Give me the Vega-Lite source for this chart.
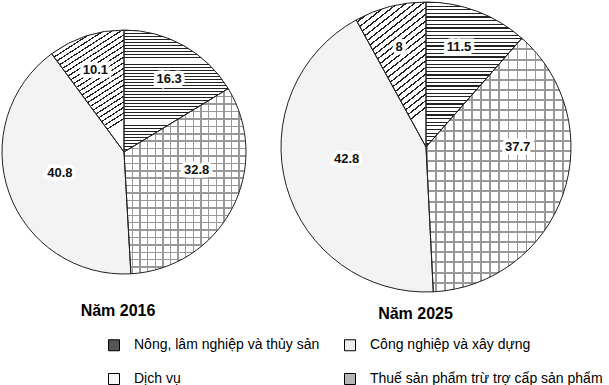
{
"$schema": "https://vega.github.io/schema/vega-lite/v6.json",
"padding": 0,
"background": "white",
"config": {"view": {"stroke": null}, "font": "Liberation Sans"},
"data": {"values": [
 {"year": "2016", "sector": "Nông, lâm nghiệp và thủy sản", "idx": 1, "value": 16.3},
 {"year": "2016", "sector": "Công nghiệp và xây dựng", "idx": 2, "value": 32.8},
 {"year": "2016", "sector": "Dịch vụ", "idx": 3, "value": 40.8},
 {"year": "2016", "sector": "Thuế sản phẩm trừ trợ cấp sản phẩm", "idx": 4, "value": 10.1},
 {"year": "2025", "sector": "Nông, lâm nghiệp và thủy sản", "idx": 1, "value": 11.5},
 {"year": "2025", "sector": "Công nghiệp và xây dựng", "idx": 2, "value": 37.7},
 {"year": "2025", "sector": "Dịch vụ", "idx": 3, "value": 42.8},
 {"year": "2025", "sector": "Thuế sản phẩm trừ trợ cấp sản phẩm", "idx": 4, "value": 8}
]},
"spacing": 31,
"hconcat": [
{
 "width": 248, "height": 304,
 "title": {"text": "Năm 2016", "orient": "bottom", "anchor": "middle", "font": "Liberation Sans", "fontSize": 16, "fontWeight": "bold", "color": "#000", "baseline": "alphabetic", "offset": 12, "dx": -6},
 "transform": [{"filter": "datum.year == '2016'"}],
 "layer": [
  {"mark": {"type": "arc", "outerRadius": 122},
   "encoding": {
    "theta": {"field": "value", "type": "quantitative", "stack": true},
    "order": {"field": "idx", "type": "quantitative"},
    "fill": {"field": "sector", "type": "nominal",
     "scale": {"domain": ["Nông, lâm nghiệp và thủy sản", "Công nghiệp và xây dựng", "Dịch vụ", "Thuế sản phẩm trừ trợ cấp sản phẩm"], "range": ["#555555", "#eeeeee", "#f6f6f6", "#b5b5b5"]},
     "legend": {"orient": "none", "legendX": 107, "legendY": 338, "direction": "horizontal", "columns": 2, "title": null, "symbolType": "square", "symbolSize": 121, "symbolStrokeColor": "#000", "symbolStrokeWidth": 1, "labelFont": "Liberation Sans", "labelFontSize": 14, "labelColor": "#000", "labelOffset": 13, "columnPadding": 22, "rowPadding": 18, "padding": 0, "labelLimit": 400}}
   }},
  {"mark": {"type": "arc", "outerRadius": 122},
   "encoding": {
    "theta": {"field": "value", "type": "quantitative", "stack": true},
    "order": {"field": "idx", "type": "quantitative"},
    "fill": {"condition": [
      {"test": "datum.idx == 1", "value": {"gradient": "linear", "x1": 0, "y1": 0, "x2": 0, "y2": 1, "stops": [
{"offset":0,"color":"#222"},{"offset":0.008,"color":"#222"},{"offset":0.008,"color":"#fff"},{"offset":0.025,"color":"#fff"},
{"offset":0.025,"color":"#222"},{"offset":0.033,"color":"#222"},{"offset":0.033,"color":"#fff"},{"offset":0.05,"color":"#fff"},
{"offset":0.05,"color":"#222"},{"offset":0.058,"color":"#222"},{"offset":0.058,"color":"#fff"},{"offset":0.075,"color":"#fff"},
{"offset":0.075,"color":"#222"},{"offset":0.083,"color":"#222"},{"offset":0.083,"color":"#fff"},{"offset":0.1,"color":"#fff"},
{"offset":0.1,"color":"#222"},{"offset":0.108,"color":"#222"},{"offset":0.108,"color":"#fff"},{"offset":0.125,"color":"#fff"},
{"offset":0.125,"color":"#222"},{"offset":0.133,"color":"#222"},{"offset":0.133,"color":"#fff"},{"offset":0.15,"color":"#fff"},
{"offset":0.15,"color":"#222"},{"offset":0.158,"color":"#222"},{"offset":0.158,"color":"#fff"},{"offset":0.175,"color":"#fff"},
{"offset":0.175,"color":"#222"},{"offset":0.183,"color":"#222"},{"offset":0.183,"color":"#fff"},{"offset":0.2,"color":"#fff"},
{"offset":0.2,"color":"#222"},{"offset":0.208,"color":"#222"},{"offset":0.208,"color":"#fff"},{"offset":0.225,"color":"#fff"},
{"offset":0.225,"color":"#222"},{"offset":0.233,"color":"#222"},{"offset":0.233,"color":"#fff"},{"offset":0.25,"color":"#fff"},
{"offset":0.25,"color":"#222"},{"offset":0.258,"color":"#222"},{"offset":0.258,"color":"#fff"},{"offset":0.275,"color":"#fff"},
{"offset":0.275,"color":"#222"},{"offset":0.283,"color":"#222"},{"offset":0.283,"color":"#fff"},{"offset":0.3,"color":"#fff"},
{"offset":0.3,"color":"#222"},{"offset":0.308,"color":"#222"},{"offset":0.308,"color":"#fff"},{"offset":0.325,"color":"#fff"},
{"offset":0.325,"color":"#222"},{"offset":0.333,"color":"#222"},{"offset":0.333,"color":"#fff"},{"offset":0.35,"color":"#fff"},
{"offset":0.35,"color":"#222"},{"offset":0.358,"color":"#222"},{"offset":0.358,"color":"#fff"},{"offset":0.375,"color":"#fff"},
{"offset":0.375,"color":"#222"},{"offset":0.383,"color":"#222"},{"offset":0.383,"color":"#fff"},{"offset":0.4,"color":"#fff"},
{"offset":0.4,"color":"#222"},{"offset":0.408,"color":"#222"},{"offset":0.408,"color":"#fff"},{"offset":0.425,"color":"#fff"},
{"offset":0.425,"color":"#222"},{"offset":0.433,"color":"#222"},{"offset":0.433,"color":"#fff"},{"offset":0.45,"color":"#fff"},
{"offset":0.45,"color":"#222"},{"offset":0.458,"color":"#222"},{"offset":0.458,"color":"#fff"},{"offset":0.475,"color":"#fff"},
{"offset":0.475,"color":"#222"},{"offset":0.483,"color":"#222"},{"offset":0.483,"color":"#fff"},{"offset":0.5,"color":"#fff"},
{"offset":0.5,"color":"#222"},{"offset":0.508,"color":"#222"},{"offset":0.508,"color":"#fff"},{"offset":0.525,"color":"#fff"},
{"offset":0.525,"color":"#222"},{"offset":0.533,"color":"#222"},{"offset":0.533,"color":"#fff"},{"offset":0.55,"color":"#fff"},
{"offset":0.55,"color":"#222"},{"offset":0.558,"color":"#222"},{"offset":0.558,"color":"#fff"},{"offset":0.575,"color":"#fff"},
{"offset":0.575,"color":"#222"},{"offset":0.583,"color":"#222"},{"offset":0.583,"color":"#fff"},{"offset":0.6,"color":"#fff"},
{"offset":0.6,"color":"#222"},{"offset":0.608,"color":"#222"},{"offset":0.608,"color":"#fff"},{"offset":0.625,"color":"#fff"},
{"offset":0.625,"color":"#222"},{"offset":0.633,"color":"#222"},{"offset":0.633,"color":"#fff"},{"offset":0.65,"color":"#fff"},
{"offset":0.65,"color":"#222"},{"offset":0.658,"color":"#222"},{"offset":0.658,"color":"#fff"},{"offset":0.675,"color":"#fff"},
{"offset":0.675,"color":"#222"},{"offset":0.683,"color":"#222"},{"offset":0.683,"color":"#fff"},{"offset":0.7,"color":"#fff"},
{"offset":0.7,"color":"#222"},{"offset":0.708,"color":"#222"},{"offset":0.708,"color":"#fff"},{"offset":0.725,"color":"#fff"},
{"offset":0.725,"color":"#222"},{"offset":0.733,"color":"#222"},{"offset":0.733,"color":"#fff"},{"offset":0.75,"color":"#fff"},
{"offset":0.75,"color":"#222"},{"offset":0.758,"color":"#222"},{"offset":0.758,"color":"#fff"},{"offset":0.775,"color":"#fff"},
{"offset":0.775,"color":"#222"},{"offset":0.783,"color":"#222"},{"offset":0.783,"color":"#fff"},{"offset":0.8,"color":"#fff"},
{"offset":0.8,"color":"#222"},{"offset":0.808,"color":"#222"},{"offset":0.808,"color":"#fff"},{"offset":0.825,"color":"#fff"},
{"offset":0.825,"color":"#222"},{"offset":0.833,"color":"#222"},{"offset":0.833,"color":"#fff"},{"offset":0.85,"color":"#fff"},
{"offset":0.85,"color":"#222"},{"offset":0.858,"color":"#222"},{"offset":0.858,"color":"#fff"},{"offset":0.875,"color":"#fff"},
{"offset":0.875,"color":"#222"},{"offset":0.883,"color":"#222"},{"offset":0.883,"color":"#fff"},{"offset":0.9,"color":"#fff"},
{"offset":0.9,"color":"#222"},{"offset":0.908,"color":"#222"},{"offset":0.908,"color":"#fff"},{"offset":0.925,"color":"#fff"},
{"offset":0.925,"color":"#222"},{"offset":0.933,"color":"#222"},{"offset":0.933,"color":"#fff"},{"offset":0.95,"color":"#fff"},
{"offset":0.95,"color":"#222"},{"offset":0.958,"color":"#222"},{"offset":0.958,"color":"#fff"},{"offset":0.975,"color":"#fff"},
{"offset":0.975,"color":"#222"},{"offset":0.983,"color":"#222"},{"offset":0.983,"color":"#fff"},{"offset":1,"color":"#fff"}
      ]}},
      {"test": "datum.idx == 2", "value": {"gradient": "linear", "x1": 0, "y1": 0, "x2": 0, "y2": 1, "stops": [
{"offset":0,"color":"#999"},{"offset":0.008,"color":"#999"},{"offset":0.008,"color":"#fff"},{"offset":0.04,"color":"#fff"},
{"offset":0.04,"color":"#999"},{"offset":0.048,"color":"#999"},{"offset":0.048,"color":"#fff"},{"offset":0.08,"color":"#fff"},
{"offset":0.08,"color":"#999"},{"offset":0.088,"color":"#999"},{"offset":0.088,"color":"#fff"},{"offset":0.12,"color":"#fff"},
{"offset":0.12,"color":"#999"},{"offset":0.128,"color":"#999"},{"offset":0.128,"color":"#fff"},{"offset":0.16,"color":"#fff"},
{"offset":0.16,"color":"#999"},{"offset":0.168,"color":"#999"},{"offset":0.168,"color":"#fff"},{"offset":0.2,"color":"#fff"},
{"offset":0.2,"color":"#999"},{"offset":0.208,"color":"#999"},{"offset":0.208,"color":"#fff"},{"offset":0.24,"color":"#fff"},
{"offset":0.24,"color":"#999"},{"offset":0.248,"color":"#999"},{"offset":0.248,"color":"#fff"},{"offset":0.28,"color":"#fff"},
{"offset":0.28,"color":"#999"},{"offset":0.288,"color":"#999"},{"offset":0.288,"color":"#fff"},{"offset":0.32,"color":"#fff"},
{"offset":0.32,"color":"#999"},{"offset":0.328,"color":"#999"},{"offset":0.328,"color":"#fff"},{"offset":0.36,"color":"#fff"},
{"offset":0.36,"color":"#999"},{"offset":0.368,"color":"#999"},{"offset":0.368,"color":"#fff"},{"offset":0.4,"color":"#fff"},
{"offset":0.4,"color":"#999"},{"offset":0.408,"color":"#999"},{"offset":0.408,"color":"#fff"},{"offset":0.44,"color":"#fff"},
{"offset":0.44,"color":"#999"},{"offset":0.448,"color":"#999"},{"offset":0.448,"color":"#fff"},{"offset":0.48,"color":"#fff"},
{"offset":0.48,"color":"#999"},{"offset":0.488,"color":"#999"},{"offset":0.488,"color":"#fff"},{"offset":0.52,"color":"#fff"},
{"offset":0.52,"color":"#999"},{"offset":0.528,"color":"#999"},{"offset":0.528,"color":"#fff"},{"offset":0.56,"color":"#fff"},
{"offset":0.56,"color":"#999"},{"offset":0.568,"color":"#999"},{"offset":0.568,"color":"#fff"},{"offset":0.6,"color":"#fff"},
{"offset":0.6,"color":"#999"},{"offset":0.608,"color":"#999"},{"offset":0.608,"color":"#fff"},{"offset":0.64,"color":"#fff"},
{"offset":0.64,"color":"#999"},{"offset":0.648,"color":"#999"},{"offset":0.648,"color":"#fff"},{"offset":0.68,"color":"#fff"},
{"offset":0.68,"color":"#999"},{"offset":0.688,"color":"#999"},{"offset":0.688,"color":"#fff"},{"offset":0.72,"color":"#fff"},
{"offset":0.72,"color":"#999"},{"offset":0.728,"color":"#999"},{"offset":0.728,"color":"#fff"},{"offset":0.76,"color":"#fff"},
{"offset":0.76,"color":"#999"},{"offset":0.768,"color":"#999"},{"offset":0.768,"color":"#fff"},{"offset":0.8,"color":"#fff"},
{"offset":0.8,"color":"#999"},{"offset":0.808,"color":"#999"},{"offset":0.808,"color":"#fff"},{"offset":0.84,"color":"#fff"},
{"offset":0.84,"color":"#999"},{"offset":0.848,"color":"#999"},{"offset":0.848,"color":"#fff"},{"offset":0.88,"color":"#fff"},
{"offset":0.88,"color":"#999"},{"offset":0.888,"color":"#999"},{"offset":0.888,"color":"#fff"},{"offset":0.92,"color":"#fff"},
{"offset":0.92,"color":"#999"},{"offset":0.928,"color":"#999"},{"offset":0.928,"color":"#fff"},{"offset":0.96,"color":"#fff"},
{"offset":0.96,"color":"#999"},{"offset":0.968,"color":"#999"},{"offset":0.968,"color":"#fff"},{"offset":1,"color":"#fff"}
      ]}},
      {"test": "datum.idx == 4", "value": {"gradient": "linear", "x1": 0, "y1": 0, "x2": 0.38, "y2": 1, "stops": [
{"offset":0,"color":"#222"},{"offset":0.01,"color":"#222"},{"offset":0.01,"color":"#fff"},{"offset":0.04,"color":"#fff"},
{"offset":0.04,"color":"#222"},{"offset":0.05,"color":"#222"},{"offset":0.05,"color":"#fff"},{"offset":0.08,"color":"#fff"},
{"offset":0.08,"color":"#222"},{"offset":0.09,"color":"#222"},{"offset":0.09,"color":"#fff"},{"offset":0.12,"color":"#fff"},
{"offset":0.12,"color":"#222"},{"offset":0.13,"color":"#222"},{"offset":0.13,"color":"#fff"},{"offset":0.16,"color":"#fff"},
{"offset":0.16,"color":"#222"},{"offset":0.17,"color":"#222"},{"offset":0.17,"color":"#fff"},{"offset":0.2,"color":"#fff"},
{"offset":0.2,"color":"#222"},{"offset":0.21,"color":"#222"},{"offset":0.21,"color":"#fff"},{"offset":0.24,"color":"#fff"},
{"offset":0.24,"color":"#222"},{"offset":0.25,"color":"#222"},{"offset":0.25,"color":"#fff"},{"offset":0.28,"color":"#fff"},
{"offset":0.28,"color":"#222"},{"offset":0.29,"color":"#222"},{"offset":0.29,"color":"#fff"},{"offset":0.32,"color":"#fff"},
{"offset":0.32,"color":"#222"},{"offset":0.33,"color":"#222"},{"offset":0.33,"color":"#fff"},{"offset":0.36,"color":"#fff"},
{"offset":0.36,"color":"#222"},{"offset":0.37,"color":"#222"},{"offset":0.37,"color":"#fff"},{"offset":0.4,"color":"#fff"},
{"offset":0.4,"color":"#222"},{"offset":0.41,"color":"#222"},{"offset":0.41,"color":"#fff"},{"offset":0.44,"color":"#fff"},
{"offset":0.44,"color":"#222"},{"offset":0.45,"color":"#222"},{"offset":0.45,"color":"#fff"},{"offset":0.48,"color":"#fff"},
{"offset":0.48,"color":"#222"},{"offset":0.49,"color":"#222"},{"offset":0.49,"color":"#fff"},{"offset":0.52,"color":"#fff"},
{"offset":0.52,"color":"#222"},{"offset":0.53,"color":"#222"},{"offset":0.53,"color":"#fff"},{"offset":0.56,"color":"#fff"},
{"offset":0.56,"color":"#222"},{"offset":0.57,"color":"#222"},{"offset":0.57,"color":"#fff"},{"offset":0.6,"color":"#fff"},
{"offset":0.6,"color":"#222"},{"offset":0.61,"color":"#222"},{"offset":0.61,"color":"#fff"},{"offset":0.64,"color":"#fff"},
{"offset":0.64,"color":"#222"},{"offset":0.65,"color":"#222"},{"offset":0.65,"color":"#fff"},{"offset":0.68,"color":"#fff"},
{"offset":0.68,"color":"#222"},{"offset":0.69,"color":"#222"},{"offset":0.69,"color":"#fff"},{"offset":0.72,"color":"#fff"},
{"offset":0.72,"color":"#222"},{"offset":0.73,"color":"#222"},{"offset":0.73,"color":"#fff"},{"offset":0.76,"color":"#fff"},
{"offset":0.76,"color":"#222"},{"offset":0.77,"color":"#222"},{"offset":0.77,"color":"#fff"},{"offset":0.8,"color":"#fff"},
{"offset":0.8,"color":"#222"},{"offset":0.81,"color":"#222"},{"offset":0.81,"color":"#fff"},{"offset":0.84,"color":"#fff"},
{"offset":0.84,"color":"#222"},{"offset":0.85,"color":"#222"},{"offset":0.85,"color":"#fff"},{"offset":0.88,"color":"#fff"},
{"offset":0.88,"color":"#222"},{"offset":0.89,"color":"#222"},{"offset":0.89,"color":"#fff"},{"offset":0.92,"color":"#fff"},
{"offset":0.92,"color":"#222"},{"offset":0.93,"color":"#222"},{"offset":0.93,"color":"#fff"},{"offset":0.96,"color":"#fff"},
{"offset":0.96,"color":"#222"},{"offset":0.97,"color":"#222"},{"offset":0.97,"color":"#fff"},{"offset":1,"color":"#fff"}
      ]}}
     ], "value": "#f3f3f3"}
   }},
  {"mark": {"type": "arc", "outerRadius": 122},
   "encoding": {
    "theta": {"field": "value", "type": "quantitative", "stack": true},
    "order": {"field": "idx", "type": "quantitative"},
    "fill": {"condition": {"test": "datum.idx == 2", "value": {"gradient": "linear", "x1": 0, "y1": 0, "x2": 1, "y2": 0, "stops": [
{"offset":0,"color":"#999"},{"offset":0.012,"color":"#999"},{"offset":0.012,"color":"rgba(0,0,0,0)"},{"offset":0.0625,"color":"rgba(0,0,0,0)"},
{"offset":0.0625,"color":"#999"},{"offset":0.0745,"color":"#999"},{"offset":0.0745,"color":"rgba(0,0,0,0)"},{"offset":0.125,"color":"rgba(0,0,0,0)"},
{"offset":0.125,"color":"#999"},{"offset":0.137,"color":"#999"},{"offset":0.137,"color":"rgba(0,0,0,0)"},{"offset":0.1875,"color":"rgba(0,0,0,0)"},
{"offset":0.1875,"color":"#999"},{"offset":0.1995,"color":"#999"},{"offset":0.1995,"color":"rgba(0,0,0,0)"},{"offset":0.25,"color":"rgba(0,0,0,0)"},
{"offset":0.25,"color":"#999"},{"offset":0.262,"color":"#999"},{"offset":0.262,"color":"rgba(0,0,0,0)"},{"offset":0.3125,"color":"rgba(0,0,0,0)"},
{"offset":0.3125,"color":"#999"},{"offset":0.3245,"color":"#999"},{"offset":0.3245,"color":"rgba(0,0,0,0)"},{"offset":0.375,"color":"rgba(0,0,0,0)"},
{"offset":0.375,"color":"#999"},{"offset":0.387,"color":"#999"},{"offset":0.387,"color":"rgba(0,0,0,0)"},{"offset":0.4375,"color":"rgba(0,0,0,0)"},
{"offset":0.4375,"color":"#999"},{"offset":0.4495,"color":"#999"},{"offset":0.4495,"color":"rgba(0,0,0,0)"},{"offset":0.5,"color":"rgba(0,0,0,0)"},
{"offset":0.5,"color":"#999"},{"offset":0.512,"color":"#999"},{"offset":0.512,"color":"rgba(0,0,0,0)"},{"offset":0.5625,"color":"rgba(0,0,0,0)"},
{"offset":0.5625,"color":"#999"},{"offset":0.5745,"color":"#999"},{"offset":0.5745,"color":"rgba(0,0,0,0)"},{"offset":0.625,"color":"rgba(0,0,0,0)"},
{"offset":0.625,"color":"#999"},{"offset":0.637,"color":"#999"},{"offset":0.637,"color":"rgba(0,0,0,0)"},{"offset":0.6875,"color":"rgba(0,0,0,0)"},
{"offset":0.6875,"color":"#999"},{"offset":0.6995,"color":"#999"},{"offset":0.6995,"color":"rgba(0,0,0,0)"},{"offset":0.75,"color":"rgba(0,0,0,0)"},
{"offset":0.75,"color":"#999"},{"offset":0.762,"color":"#999"},{"offset":0.762,"color":"rgba(0,0,0,0)"},{"offset":0.8125,"color":"rgba(0,0,0,0)"},
{"offset":0.8125,"color":"#999"},{"offset":0.8245,"color":"#999"},{"offset":0.8245,"color":"rgba(0,0,0,0)"},{"offset":0.875,"color":"rgba(0,0,0,0)"},
{"offset":0.875,"color":"#999"},{"offset":0.887,"color":"#999"},{"offset":0.887,"color":"rgba(0,0,0,0)"},{"offset":0.9375,"color":"rgba(0,0,0,0)"},
{"offset":0.9375,"color":"#999"},{"offset":0.9495,"color":"#999"},{"offset":0.9495,"color":"rgba(0,0,0,0)"},{"offset":1,"color":"rgba(0,0,0,0)"}
      ]}}, "value": "transparent"}
   }},
  {"mark": {"type": "arc", "outerRadius": 122, "fill": "transparent", "stroke": "#222", "strokeWidth": 1},
   "encoding": {
    "theta": {"field": "value", "type": "quantitative", "stack": true},
    "order": {"field": "idx", "type": "quantitative"}
   }},
  {"mark": {"type": "text", "font": "Liberation Sans", "fontSize": 13, "fontWeight": "bold", "fill": "#fff", "stroke": "#fff", "strokeWidth": 7, "strokeJoin": "miter",
    "dx": {"expr": "datum.idx == 1 ? 5 : datum.idx == 3 ? 13 : datum.idx == 4 ? -3 : 0"},
    "dy": {"expr": "datum.idx == 1 ? -2 : datum.idx == 2 ? -20 : datum.idx == 3 ? -7 : -4"}},
   "encoding": {
    "theta": {"field": "value", "type": "quantitative", "stack": true},
    "order": {"field": "idx", "type": "quantitative"},
    "radius": {"value": 82},
    "text": {"field": "value", "type": "quantitative", "format": "~g"}
   }},
  {"mark": {"type": "text", "font": "Liberation Sans", "fontSize": 13, "fontWeight": "bold", "fill": "#111",
    "dx": {"expr": "datum.idx == 1 ? 5 : datum.idx == 3 ? 13 : datum.idx == 4 ? -3 : 0"},
    "dy": {"expr": "datum.idx == 1 ? -2 : datum.idx == 2 ? -20 : datum.idx == 3 ? -7 : -4"}},
   "encoding": {
    "theta": {"field": "value", "type": "quantitative", "stack": true},
    "order": {"field": "idx", "type": "quantitative"},
    "radius": {"value": 82},
    "text": {"field": "value", "type": "quantitative", "format": "~g"}
   }}
 ]
},
{
 "width": 290, "height": 294,
 "title": {"text": "Năm 2025", "orient": "bottom", "anchor": "middle", "font": "Liberation Sans", "fontSize": 16, "fontWeight": "bold", "color": "#000", "baseline": "alphabetic", "offset": 25, "dx": -10.5},
 "transform": [{"filter": "datum.year == '2025'"}],
 "layer": [
  {"mark": {"type": "arc", "outerRadius": 145},
   "encoding": {
    "theta": {"field": "value", "type": "quantitative", "stack": true},
    "order": {"field": "idx", "type": "quantitative"},
    "fill": {"field": "sector", "type": "nominal",
     "scale": {"domain": ["Nông, lâm nghiệp và thủy sản", "Công nghiệp và xây dựng", "Dịch vụ", "Thuế sản phẩm trừ trợ cấp sản phẩm"], "range": ["#555555", "#eeeeee", "#f6f6f6", "#b5b5b5"]},
     "legend": {"orient": "none", "legendX": 107, "legendY": 338, "direction": "horizontal", "columns": 2, "title": null, "symbolType": "square", "symbolSize": 121, "symbolStrokeColor": "#000", "symbolStrokeWidth": 1, "labelFont": "Liberation Sans", "labelFontSize": 14, "labelColor": "#000", "labelOffset": 13, "columnPadding": 22, "rowPadding": 18, "padding": 0, "labelLimit": 400}}
   }},
  {"mark": {"type": "arc", "outerRadius": 145},
   "encoding": {
    "theta": {"field": "value", "type": "quantitative", "stack": true},
    "order": {"field": "idx", "type": "quantitative"},
    "fill": {"condition": [
      {"test": "datum.idx == 1", "value": {"gradient": "linear", "x1": 0, "y1": 0, "x2": 0, "y2": 1, "stops": [
{"offset":0,"color":"#222"},{"offset":0.008,"color":"#222"},{"offset":0.008,"color":"#fff"},{"offset":0.025,"color":"#fff"},
{"offset":0.025,"color":"#222"},{"offset":0.033,"color":"#222"},{"offset":0.033,"color":"#fff"},{"offset":0.05,"color":"#fff"},
{"offset":0.05,"color":"#222"},{"offset":0.058,"color":"#222"},{"offset":0.058,"color":"#fff"},{"offset":0.075,"color":"#fff"},
{"offset":0.075,"color":"#222"},{"offset":0.083,"color":"#222"},{"offset":0.083,"color":"#fff"},{"offset":0.1,"color":"#fff"},
{"offset":0.1,"color":"#222"},{"offset":0.108,"color":"#222"},{"offset":0.108,"color":"#fff"},{"offset":0.125,"color":"#fff"},
{"offset":0.125,"color":"#222"},{"offset":0.133,"color":"#222"},{"offset":0.133,"color":"#fff"},{"offset":0.15,"color":"#fff"},
{"offset":0.15,"color":"#222"},{"offset":0.158,"color":"#222"},{"offset":0.158,"color":"#fff"},{"offset":0.175,"color":"#fff"},
{"offset":0.175,"color":"#222"},{"offset":0.183,"color":"#222"},{"offset":0.183,"color":"#fff"},{"offset":0.2,"color":"#fff"},
{"offset":0.2,"color":"#222"},{"offset":0.208,"color":"#222"},{"offset":0.208,"color":"#fff"},{"offset":0.225,"color":"#fff"},
{"offset":0.225,"color":"#222"},{"offset":0.233,"color":"#222"},{"offset":0.233,"color":"#fff"},{"offset":0.25,"color":"#fff"},
{"offset":0.25,"color":"#222"},{"offset":0.258,"color":"#222"},{"offset":0.258,"color":"#fff"},{"offset":0.275,"color":"#fff"},
{"offset":0.275,"color":"#222"},{"offset":0.283,"color":"#222"},{"offset":0.283,"color":"#fff"},{"offset":0.3,"color":"#fff"},
{"offset":0.3,"color":"#222"},{"offset":0.308,"color":"#222"},{"offset":0.308,"color":"#fff"},{"offset":0.325,"color":"#fff"},
{"offset":0.325,"color":"#222"},{"offset":0.333,"color":"#222"},{"offset":0.333,"color":"#fff"},{"offset":0.35,"color":"#fff"},
{"offset":0.35,"color":"#222"},{"offset":0.358,"color":"#222"},{"offset":0.358,"color":"#fff"},{"offset":0.375,"color":"#fff"},
{"offset":0.375,"color":"#222"},{"offset":0.383,"color":"#222"},{"offset":0.383,"color":"#fff"},{"offset":0.4,"color":"#fff"},
{"offset":0.4,"color":"#222"},{"offset":0.408,"color":"#222"},{"offset":0.408,"color":"#fff"},{"offset":0.425,"color":"#fff"},
{"offset":0.425,"color":"#222"},{"offset":0.433,"color":"#222"},{"offset":0.433,"color":"#fff"},{"offset":0.45,"color":"#fff"},
{"offset":0.45,"color":"#222"},{"offset":0.458,"color":"#222"},{"offset":0.458,"color":"#fff"},{"offset":0.475,"color":"#fff"},
{"offset":0.475,"color":"#222"},{"offset":0.483,"color":"#222"},{"offset":0.483,"color":"#fff"},{"offset":0.5,"color":"#fff"},
{"offset":0.5,"color":"#222"},{"offset":0.508,"color":"#222"},{"offset":0.508,"color":"#fff"},{"offset":0.525,"color":"#fff"},
{"offset":0.525,"color":"#222"},{"offset":0.533,"color":"#222"},{"offset":0.533,"color":"#fff"},{"offset":0.55,"color":"#fff"},
{"offset":0.55,"color":"#222"},{"offset":0.558,"color":"#222"},{"offset":0.558,"color":"#fff"},{"offset":0.575,"color":"#fff"},
{"offset":0.575,"color":"#222"},{"offset":0.583,"color":"#222"},{"offset":0.583,"color":"#fff"},{"offset":0.6,"color":"#fff"},
{"offset":0.6,"color":"#222"},{"offset":0.608,"color":"#222"},{"offset":0.608,"color":"#fff"},{"offset":0.625,"color":"#fff"},
{"offset":0.625,"color":"#222"},{"offset":0.633,"color":"#222"},{"offset":0.633,"color":"#fff"},{"offset":0.65,"color":"#fff"},
{"offset":0.65,"color":"#222"},{"offset":0.658,"color":"#222"},{"offset":0.658,"color":"#fff"},{"offset":0.675,"color":"#fff"},
{"offset":0.675,"color":"#222"},{"offset":0.683,"color":"#222"},{"offset":0.683,"color":"#fff"},{"offset":0.7,"color":"#fff"},
{"offset":0.7,"color":"#222"},{"offset":0.708,"color":"#222"},{"offset":0.708,"color":"#fff"},{"offset":0.725,"color":"#fff"},
{"offset":0.725,"color":"#222"},{"offset":0.733,"color":"#222"},{"offset":0.733,"color":"#fff"},{"offset":0.75,"color":"#fff"},
{"offset":0.75,"color":"#222"},{"offset":0.758,"color":"#222"},{"offset":0.758,"color":"#fff"},{"offset":0.775,"color":"#fff"},
{"offset":0.775,"color":"#222"},{"offset":0.783,"color":"#222"},{"offset":0.783,"color":"#fff"},{"offset":0.8,"color":"#fff"},
{"offset":0.8,"color":"#222"},{"offset":0.808,"color":"#222"},{"offset":0.808,"color":"#fff"},{"offset":0.825,"color":"#fff"},
{"offset":0.825,"color":"#222"},{"offset":0.833,"color":"#222"},{"offset":0.833,"color":"#fff"},{"offset":0.85,"color":"#fff"},
{"offset":0.85,"color":"#222"},{"offset":0.858,"color":"#222"},{"offset":0.858,"color":"#fff"},{"offset":0.875,"color":"#fff"},
{"offset":0.875,"color":"#222"},{"offset":0.883,"color":"#222"},{"offset":0.883,"color":"#fff"},{"offset":0.9,"color":"#fff"},
{"offset":0.9,"color":"#222"},{"offset":0.908,"color":"#222"},{"offset":0.908,"color":"#fff"},{"offset":0.925,"color":"#fff"},
{"offset":0.925,"color":"#222"},{"offset":0.933,"color":"#222"},{"offset":0.933,"color":"#fff"},{"offset":0.95,"color":"#fff"},
{"offset":0.95,"color":"#222"},{"offset":0.958,"color":"#222"},{"offset":0.958,"color":"#fff"},{"offset":0.975,"color":"#fff"},
{"offset":0.975,"color":"#222"},{"offset":0.983,"color":"#222"},{"offset":0.983,"color":"#fff"},{"offset":1,"color":"#fff"}
      ]}},
      {"test": "datum.idx == 2", "value": {"gradient": "linear", "x1": 0, "y1": 0, "x2": 0, "y2": 1, "stops": [
{"offset":0,"color":"#999"},{"offset":0.008,"color":"#999"},{"offset":0.008,"color":"#fff"},{"offset":0.04,"color":"#fff"},
{"offset":0.04,"color":"#999"},{"offset":0.048,"color":"#999"},{"offset":0.048,"color":"#fff"},{"offset":0.08,"color":"#fff"},
{"offset":0.08,"color":"#999"},{"offset":0.088,"color":"#999"},{"offset":0.088,"color":"#fff"},{"offset":0.12,"color":"#fff"},
{"offset":0.12,"color":"#999"},{"offset":0.128,"color":"#999"},{"offset":0.128,"color":"#fff"},{"offset":0.16,"color":"#fff"},
{"offset":0.16,"color":"#999"},{"offset":0.168,"color":"#999"},{"offset":0.168,"color":"#fff"},{"offset":0.2,"color":"#fff"},
{"offset":0.2,"color":"#999"},{"offset":0.208,"color":"#999"},{"offset":0.208,"color":"#fff"},{"offset":0.24,"color":"#fff"},
{"offset":0.24,"color":"#999"},{"offset":0.248,"color":"#999"},{"offset":0.248,"color":"#fff"},{"offset":0.28,"color":"#fff"},
{"offset":0.28,"color":"#999"},{"offset":0.288,"color":"#999"},{"offset":0.288,"color":"#fff"},{"offset":0.32,"color":"#fff"},
{"offset":0.32,"color":"#999"},{"offset":0.328,"color":"#999"},{"offset":0.328,"color":"#fff"},{"offset":0.36,"color":"#fff"},
{"offset":0.36,"color":"#999"},{"offset":0.368,"color":"#999"},{"offset":0.368,"color":"#fff"},{"offset":0.4,"color":"#fff"},
{"offset":0.4,"color":"#999"},{"offset":0.408,"color":"#999"},{"offset":0.408,"color":"#fff"},{"offset":0.44,"color":"#fff"},
{"offset":0.44,"color":"#999"},{"offset":0.448,"color":"#999"},{"offset":0.448,"color":"#fff"},{"offset":0.48,"color":"#fff"},
{"offset":0.48,"color":"#999"},{"offset":0.488,"color":"#999"},{"offset":0.488,"color":"#fff"},{"offset":0.52,"color":"#fff"},
{"offset":0.52,"color":"#999"},{"offset":0.528,"color":"#999"},{"offset":0.528,"color":"#fff"},{"offset":0.56,"color":"#fff"},
{"offset":0.56,"color":"#999"},{"offset":0.568,"color":"#999"},{"offset":0.568,"color":"#fff"},{"offset":0.6,"color":"#fff"},
{"offset":0.6,"color":"#999"},{"offset":0.608,"color":"#999"},{"offset":0.608,"color":"#fff"},{"offset":0.64,"color":"#fff"},
{"offset":0.64,"color":"#999"},{"offset":0.648,"color":"#999"},{"offset":0.648,"color":"#fff"},{"offset":0.68,"color":"#fff"},
{"offset":0.68,"color":"#999"},{"offset":0.688,"color":"#999"},{"offset":0.688,"color":"#fff"},{"offset":0.72,"color":"#fff"},
{"offset":0.72,"color":"#999"},{"offset":0.728,"color":"#999"},{"offset":0.728,"color":"#fff"},{"offset":0.76,"color":"#fff"},
{"offset":0.76,"color":"#999"},{"offset":0.768,"color":"#999"},{"offset":0.768,"color":"#fff"},{"offset":0.8,"color":"#fff"},
{"offset":0.8,"color":"#999"},{"offset":0.808,"color":"#999"},{"offset":0.808,"color":"#fff"},{"offset":0.84,"color":"#fff"},
{"offset":0.84,"color":"#999"},{"offset":0.848,"color":"#999"},{"offset":0.848,"color":"#fff"},{"offset":0.88,"color":"#fff"},
{"offset":0.88,"color":"#999"},{"offset":0.888,"color":"#999"},{"offset":0.888,"color":"#fff"},{"offset":0.92,"color":"#fff"},
{"offset":0.92,"color":"#999"},{"offset":0.928,"color":"#999"},{"offset":0.928,"color":"#fff"},{"offset":0.96,"color":"#fff"},
{"offset":0.96,"color":"#999"},{"offset":0.968,"color":"#999"},{"offset":0.968,"color":"#fff"},{"offset":1,"color":"#fff"}
      ]}},
      {"test": "datum.idx == 4", "value": {"gradient": "linear", "x1": 0, "y1": 0, "x2": 0.38, "y2": 1, "stops": [
{"offset":0,"color":"#222"},{"offset":0.01,"color":"#222"},{"offset":0.01,"color":"#fff"},{"offset":0.04,"color":"#fff"},
{"offset":0.04,"color":"#222"},{"offset":0.05,"color":"#222"},{"offset":0.05,"color":"#fff"},{"offset":0.08,"color":"#fff"},
{"offset":0.08,"color":"#222"},{"offset":0.09,"color":"#222"},{"offset":0.09,"color":"#fff"},{"offset":0.12,"color":"#fff"},
{"offset":0.12,"color":"#222"},{"offset":0.13,"color":"#222"},{"offset":0.13,"color":"#fff"},{"offset":0.16,"color":"#fff"},
{"offset":0.16,"color":"#222"},{"offset":0.17,"color":"#222"},{"offset":0.17,"color":"#fff"},{"offset":0.2,"color":"#fff"},
{"offset":0.2,"color":"#222"},{"offset":0.21,"color":"#222"},{"offset":0.21,"color":"#fff"},{"offset":0.24,"color":"#fff"},
{"offset":0.24,"color":"#222"},{"offset":0.25,"color":"#222"},{"offset":0.25,"color":"#fff"},{"offset":0.28,"color":"#fff"},
{"offset":0.28,"color":"#222"},{"offset":0.29,"color":"#222"},{"offset":0.29,"color":"#fff"},{"offset":0.32,"color":"#fff"},
{"offset":0.32,"color":"#222"},{"offset":0.33,"color":"#222"},{"offset":0.33,"color":"#fff"},{"offset":0.36,"color":"#fff"},
{"offset":0.36,"color":"#222"},{"offset":0.37,"color":"#222"},{"offset":0.37,"color":"#fff"},{"offset":0.4,"color":"#fff"},
{"offset":0.4,"color":"#222"},{"offset":0.41,"color":"#222"},{"offset":0.41,"color":"#fff"},{"offset":0.44,"color":"#fff"},
{"offset":0.44,"color":"#222"},{"offset":0.45,"color":"#222"},{"offset":0.45,"color":"#fff"},{"offset":0.48,"color":"#fff"},
{"offset":0.48,"color":"#222"},{"offset":0.49,"color":"#222"},{"offset":0.49,"color":"#fff"},{"offset":0.52,"color":"#fff"},
{"offset":0.52,"color":"#222"},{"offset":0.53,"color":"#222"},{"offset":0.53,"color":"#fff"},{"offset":0.56,"color":"#fff"},
{"offset":0.56,"color":"#222"},{"offset":0.57,"color":"#222"},{"offset":0.57,"color":"#fff"},{"offset":0.6,"color":"#fff"},
{"offset":0.6,"color":"#222"},{"offset":0.61,"color":"#222"},{"offset":0.61,"color":"#fff"},{"offset":0.64,"color":"#fff"},
{"offset":0.64,"color":"#222"},{"offset":0.65,"color":"#222"},{"offset":0.65,"color":"#fff"},{"offset":0.68,"color":"#fff"},
{"offset":0.68,"color":"#222"},{"offset":0.69,"color":"#222"},{"offset":0.69,"color":"#fff"},{"offset":0.72,"color":"#fff"},
{"offset":0.72,"color":"#222"},{"offset":0.73,"color":"#222"},{"offset":0.73,"color":"#fff"},{"offset":0.76,"color":"#fff"},
{"offset":0.76,"color":"#222"},{"offset":0.77,"color":"#222"},{"offset":0.77,"color":"#fff"},{"offset":0.8,"color":"#fff"},
{"offset":0.8,"color":"#222"},{"offset":0.81,"color":"#222"},{"offset":0.81,"color":"#fff"},{"offset":0.84,"color":"#fff"},
{"offset":0.84,"color":"#222"},{"offset":0.85,"color":"#222"},{"offset":0.85,"color":"#fff"},{"offset":0.88,"color":"#fff"},
{"offset":0.88,"color":"#222"},{"offset":0.89,"color":"#222"},{"offset":0.89,"color":"#fff"},{"offset":0.92,"color":"#fff"},
{"offset":0.92,"color":"#222"},{"offset":0.93,"color":"#222"},{"offset":0.93,"color":"#fff"},{"offset":0.96,"color":"#fff"},
{"offset":0.96,"color":"#222"},{"offset":0.97,"color":"#222"},{"offset":0.97,"color":"#fff"},{"offset":1,"color":"#fff"}
      ]}}
     ], "value": "#f3f3f3"}
   }},
  {"mark": {"type": "arc", "outerRadius": 145},
   "encoding": {
    "theta": {"field": "value", "type": "quantitative", "stack": true},
    "order": {"field": "idx", "type": "quantitative"},
    "fill": {"condition": {"test": "datum.idx == 2", "value": {"gradient": "linear", "x1": 0, "y1": 0, "x2": 1, "y2": 0, "stops": [
{"offset":0,"color":"#999"},{"offset":0.012,"color":"#999"},{"offset":0.012,"color":"rgba(0,0,0,0)"},{"offset":0.0625,"color":"rgba(0,0,0,0)"},
{"offset":0.0625,"color":"#999"},{"offset":0.0745,"color":"#999"},{"offset":0.0745,"color":"rgba(0,0,0,0)"},{"offset":0.125,"color":"rgba(0,0,0,0)"},
{"offset":0.125,"color":"#999"},{"offset":0.137,"color":"#999"},{"offset":0.137,"color":"rgba(0,0,0,0)"},{"offset":0.1875,"color":"rgba(0,0,0,0)"},
{"offset":0.1875,"color":"#999"},{"offset":0.1995,"color":"#999"},{"offset":0.1995,"color":"rgba(0,0,0,0)"},{"offset":0.25,"color":"rgba(0,0,0,0)"},
{"offset":0.25,"color":"#999"},{"offset":0.262,"color":"#999"},{"offset":0.262,"color":"rgba(0,0,0,0)"},{"offset":0.3125,"color":"rgba(0,0,0,0)"},
{"offset":0.3125,"color":"#999"},{"offset":0.3245,"color":"#999"},{"offset":0.3245,"color":"rgba(0,0,0,0)"},{"offset":0.375,"color":"rgba(0,0,0,0)"},
{"offset":0.375,"color":"#999"},{"offset":0.387,"color":"#999"},{"offset":0.387,"color":"rgba(0,0,0,0)"},{"offset":0.4375,"color":"rgba(0,0,0,0)"},
{"offset":0.4375,"color":"#999"},{"offset":0.4495,"color":"#999"},{"offset":0.4495,"color":"rgba(0,0,0,0)"},{"offset":0.5,"color":"rgba(0,0,0,0)"},
{"offset":0.5,"color":"#999"},{"offset":0.512,"color":"#999"},{"offset":0.512,"color":"rgba(0,0,0,0)"},{"offset":0.5625,"color":"rgba(0,0,0,0)"},
{"offset":0.5625,"color":"#999"},{"offset":0.5745,"color":"#999"},{"offset":0.5745,"color":"rgba(0,0,0,0)"},{"offset":0.625,"color":"rgba(0,0,0,0)"},
{"offset":0.625,"color":"#999"},{"offset":0.637,"color":"#999"},{"offset":0.637,"color":"rgba(0,0,0,0)"},{"offset":0.6875,"color":"rgba(0,0,0,0)"},
{"offset":0.6875,"color":"#999"},{"offset":0.6995,"color":"#999"},{"offset":0.6995,"color":"rgba(0,0,0,0)"},{"offset":0.75,"color":"rgba(0,0,0,0)"},
{"offset":0.75,"color":"#999"},{"offset":0.762,"color":"#999"},{"offset":0.762,"color":"rgba(0,0,0,0)"},{"offset":0.8125,"color":"rgba(0,0,0,0)"},
{"offset":0.8125,"color":"#999"},{"offset":0.8245,"color":"#999"},{"offset":0.8245,"color":"rgba(0,0,0,0)"},{"offset":0.875,"color":"rgba(0,0,0,0)"},
{"offset":0.875,"color":"#999"},{"offset":0.887,"color":"#999"},{"offset":0.887,"color":"rgba(0,0,0,0)"},{"offset":0.9375,"color":"rgba(0,0,0,0)"},
{"offset":0.9375,"color":"#999"},{"offset":0.9495,"color":"#999"},{"offset":0.9495,"color":"rgba(0,0,0,0)"},{"offset":1,"color":"rgba(0,0,0,0)"}
      ]}}, "value": "transparent"}
   }},
  {"mark": {"type": "arc", "outerRadius": 145, "fill": "transparent", "stroke": "#222", "strokeWidth": 1},
   "encoding": {
    "theta": {"field": "value", "type": "quantitative", "stack": true},
    "order": {"field": "idx", "type": "quantitative"}
   }},
  {"mark": {"type": "text", "font": "Liberation Sans", "fontSize": 13, "fontWeight": "bold", "fill": "#fff", "stroke": "#fff", "strokeWidth": 7, "strokeJoin": "miter",
    "dx": {"expr": "datum.idx == 1 ? -1 : datum.idx == 2 ? 1 : datum.idx == 3 ? 13 : -3"},
    "dy": {"expr": "datum.idx == 1 ? -10 : datum.idx == 2 ? -32 : datum.idx == 3 ? -14 : -7"}},
   "encoding": {
    "theta": {"field": "value", "type": "quantitative", "stack": true},
    "order": {"field": "idx", "type": "quantitative"},
    "radius": {"value": 96},
    "text": {"field": "value", "type": "quantitative", "format": "~g"}
   }},
  {"mark": {"type": "text", "font": "Liberation Sans", "fontSize": 13, "fontWeight": "bold", "fill": "#111",
    "dx": {"expr": "datum.idx == 1 ? -1 : datum.idx == 2 ? 1 : datum.idx == 3 ? 13 : -3"},
    "dy": {"expr": "datum.idx == 1 ? -10 : datum.idx == 2 ? -32 : datum.idx == 3 ? -14 : -7"}},
   "encoding": {
    "theta": {"field": "value", "type": "quantitative", "stack": true},
    "order": {"field": "idx", "type": "quantitative"},
    "radius": {"value": 96},
    "text": {"field": "value", "type": "quantitative", "format": "~g"}
   }}
 ]
}
]
}
